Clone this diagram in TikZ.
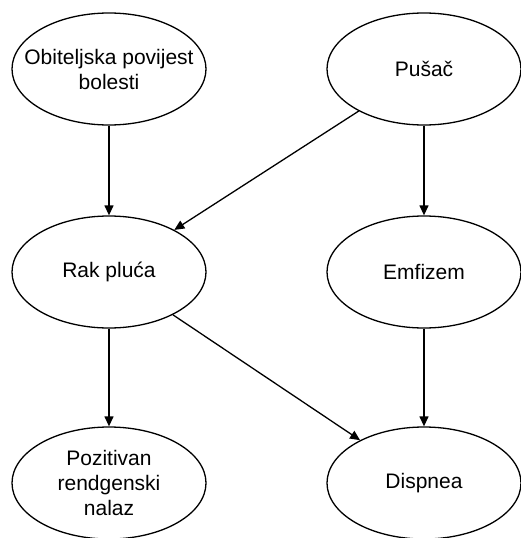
\documentclass[tikz,border=0pt]{standalone}
\usepackage{fontspec}
\setmainfont{Liberation Sans}
\usetikzlibrary{shapes.geometric,arrows.meta,calc}
\tikzstyle{cvor}=[draw, ellipse, line width=1.3pt, minimum width=194pt,
  minimum height=112pt, inner xsep=-20pt, inner ysep=0pt, align=center,
  font=\fontsize{21}{25}\selectfont]
\tikzstyle{veza}=[-{Triangle[length=10pt,width=9pt]}, line width=1.3pt]
\newcommand{\cvor}[2]{node (c#1) [cvor]
  {#2}}

\begin{document}
\begin{tikzpicture}[x=1pt,y=1pt]
  \useasboundingbox (0,0) rectangle (521,-538);
  \path (109,-69) \cvor{1}{Obiteljska povijest\\bolesti};
  \path (c1)+(315,0) \cvor{2}{Pušač};
  \path (c1)+(0,-203) \cvor{3}{Rak pluća};
  \path (c2)+(0,-203) \cvor{4}{Emfizem};
  \path (c3)+(0,-211) \cvor{5}{Pozitivan\\rendgenski\\nalaz};
  \path (c4)+(0,-211) \cvor{6}{Dispnea};

  \draw [veza] (c1) -- (c3);
  \draw [veza] (c2) -- (c3);
  \draw [veza] (c2) -- (c4);
  \draw [veza] (c3) -- (c5);
  \draw [veza] (c3) -- (c6);
  \draw [veza] (c4) -- (c6);
\end{tikzpicture}
\end{document}
